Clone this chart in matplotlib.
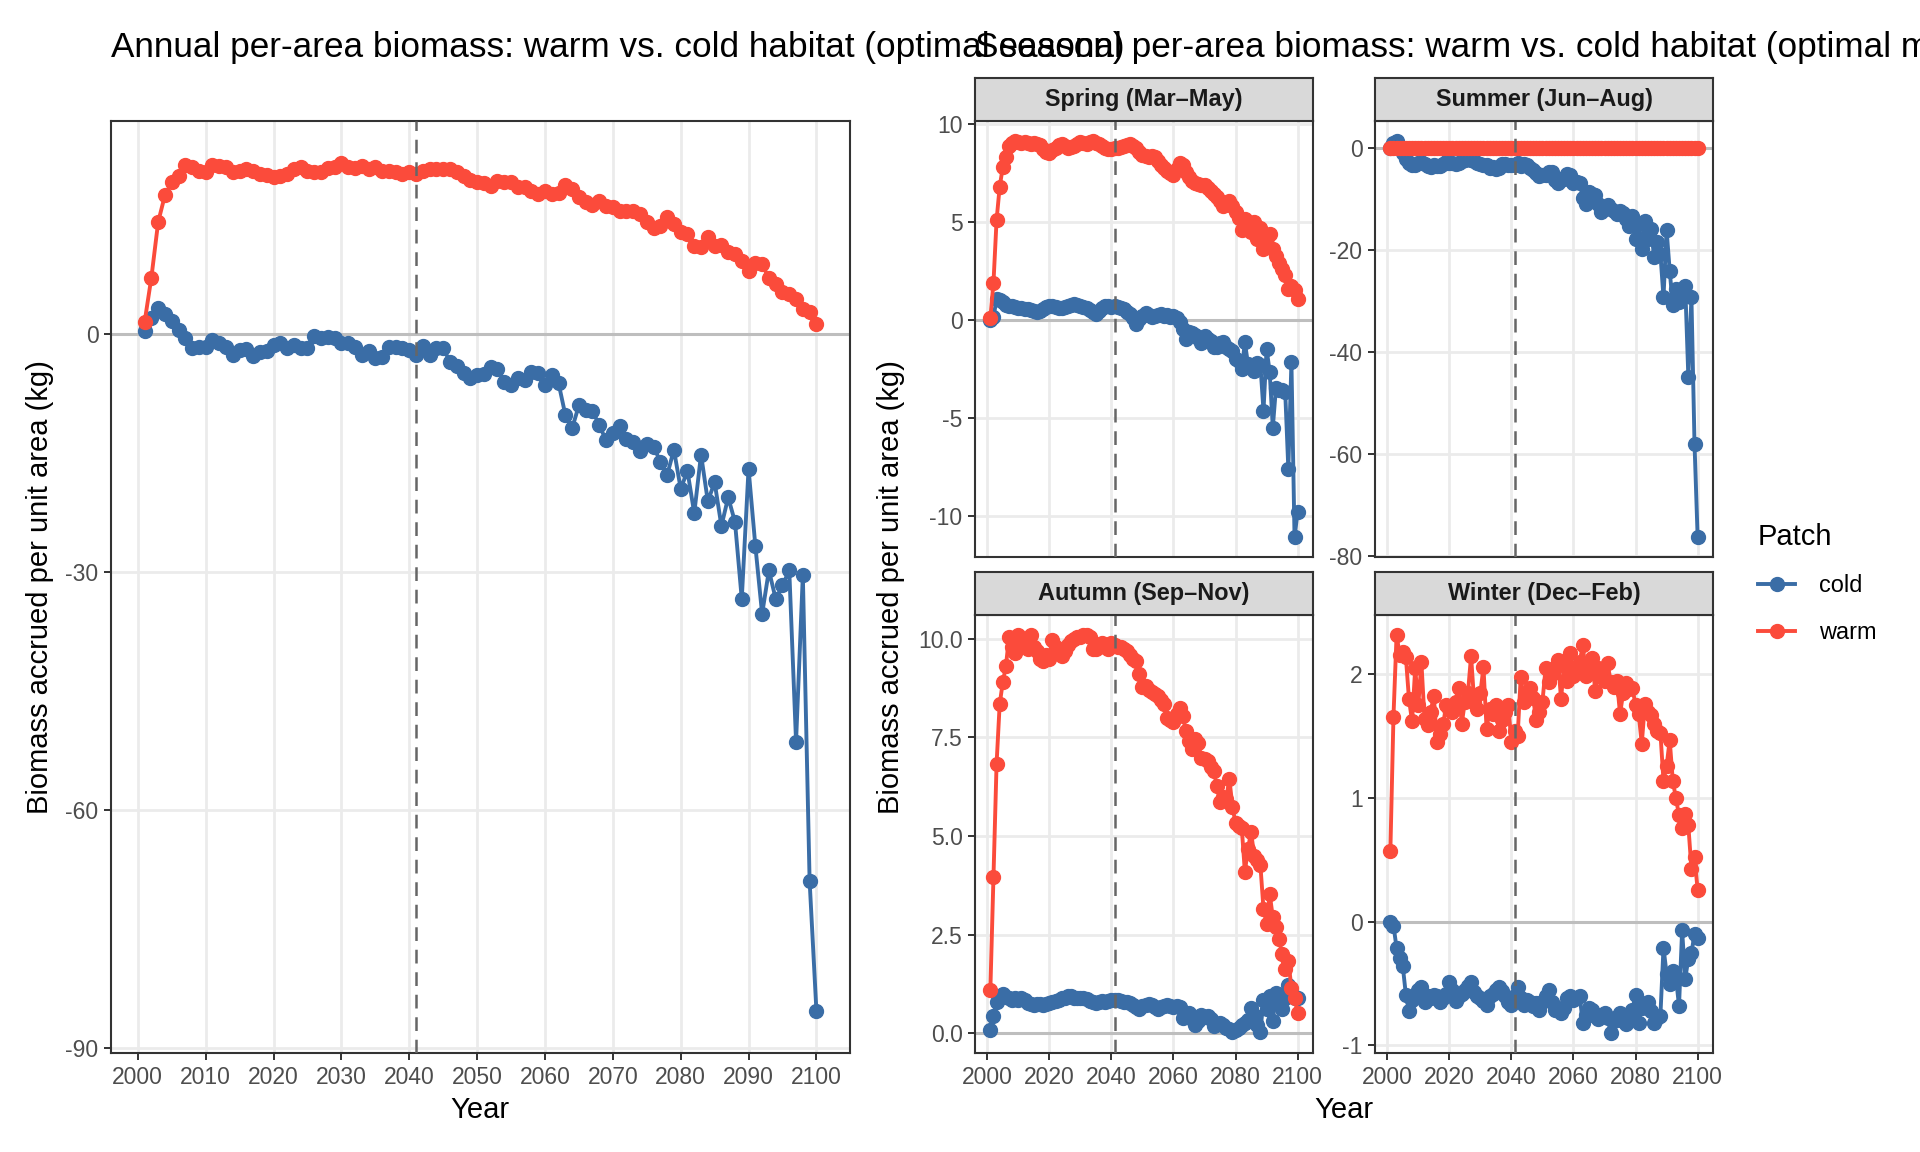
import numpy as np
import matplotlib
matplotlib.use('Agg')
import matplotlib.pyplot as plt
from matplotlib.ticker import MultipleLocator, FormatStrFormatter

plt.rcParams['font.family'] = ['Liberation Sans', 'DejaVu Sans']
plt.rcParams['axes.unicode_minus'] = False

years = np.arange(2001, 2101)

# annual totals (kg per unit area)
annual_warm = [1.5, 7.1, 14.1, 17.5, 19.1, 19.9, 21.3, 21.0, 20.6, 20.35,
               21.3, 21.2, 21.06, 20.35, 20.6, 20.8, 20.6, 20.1, 20.0, 19.8,
               19.85, 20.1, 20.8, 21.0, 20.6, 20.35, 20.35, 20.9, 21.0, 21.5,
               21.0, 20.9, 21.2, 20.8, 21.0, 20.6, 20.6, 20.35, 20.1, 20.35,
               20.1, 20.6, 20.85, 20.8, 20.85, 20.85, 20.35, 19.9, 19.4, 19.1,
               19.0, 18.7, 19.3, 19.1, 19.1, 18.5, 18.5, 18.0, 17.6, 18.0,
               17.6, 17.8, 18.76, 18.25, 17.3, 16.6, 16.3, 16.7, 16.1, 15.95,
               15.5, 15.45, 15.5, 15.1, 14.1, 13.4, 13.6, 14.8, 13.9, 12.8,
               12.6, 11.1, 10.9, 12.2, 11.1, 11.2, 10.3, 10.1, 9.25, 7.9,
               9.0, 8.8, 7.0, 6.3, 5.3, 5.07, 4.4, 3.2, 2.76, 1.3]
annual_cold = [0.4, 2.0, 3.3, 2.55, 1.6, 0.46, -0.5, -1.8, -1.7, -1.6,
               -0.8, -1.2, -1.6, -2.7, -2.0, -1.9, -2.8, -2.3, -2.2, -1.35,
               -1.2, -1.8, -1.4, -1.8, -1.76, -0.3, -0.5, -0.4, -0.5, -1.2,
               -1.2, -1.6, -2.6, -2.2, -3.0, -2.9, -1.6, -1.7, -1.8, -2.0,
               -2.7, -1.5, -2.7, -1.8, -1.8, -3.5, -4.1, -4.9, -5.5, -5.2,
               -5.1, -4.2, -4.4, -6.0, -6.4, -5.6, -5.8, -4.8, -4.9, -6.4,
               -5.2, -6.2, -10.2, -11.9, -9.0, -9.6, -9.7, -11.5, -13.4, -12.5,
               -11.6, -13.2, -13.6, -14.8, -13.9, -14.2, -16.1, -17.8, -14.6, -19.5,
               -17.3, -22.6, -15.2, -21.1, -18.7, -24.2, -20.6, -23.7, -33.4, -17.0,
               -26.7, -35.3, -29.8, -33.4, -31.7, -29.8, -51.4, -30.4, -69.0, -85.3]

# seasonal totals
spring_warm = [0.1, 1.9, 5.1, 6.8, 7.8, 8.3, 8.9, 9.05, 9.15, 9.1,
               9.05, 9.1, 9.05, 9.0, 9.05, 9.0, 8.95, 8.75, 8.6, 8.55,
               8.7, 8.8, 8.95, 9.0, 8.9, 8.8, 8.85, 8.9, 9.0, 9.1,
               9.05, 9.0, 9.1, 9.15, 9.05, 9.0, 8.9, 8.8, 8.75, 8.75,
               8.8, 8.8, 8.85, 8.9, 8.95, 9.0, 8.9, 8.8, 8.6, 8.4,
               8.35, 8.3, 8.35, 8.3, 8.1, 7.9, 7.75, 7.6, 7.5, 7.4,
               7.7, 8.0, 7.9, 7.55, 7.3, 7.1, 7.0, 6.95, 6.9, 6.87,
               6.75, 6.6, 6.45, 6.27, 6.05, 5.84, 5.9, 6.1, 5.8, 5.5,
               5.2, 4.57, 5.16, 4.9, 4.48, 5.0, 4.14, 4.7, 3.6, 4.2,
               4.4, 3.6, 3.27, 2.9, 2.6, 2.27, 1.58, 1.75, 1.55, 1.05]
spring_cold = [0.0, 0.15, 1.05, 1.0, 0.9, 0.78, 0.7, 0.7, 0.65, 0.6,
               0.62, 0.58, 0.55, 0.5, 0.45, 0.4, 0.45, 0.55, 0.65, 0.72,
               0.7, 0.68, 0.62, 0.6, 0.65, 0.7, 0.75, 0.8, 0.78, 0.7,
               0.65, 0.6, 0.5, 0.4, 0.32, 0.45, 0.6, 0.7, 0.7, 0.68,
               0.7, 0.65, 0.6, 0.55, 0.4, 0.3, 0.1, -0.2, 0.05, 0.2,
               0.35, 0.25, 0.15, 0.2, 0.25, 0.3, 0.2, 0.25, 0.15, 0.2,
               0.1, -0.1, -0.46, -0.97, -0.6, -0.65, -0.75, -0.9, -1.2, -0.8,
               -1.0, -1.1, -1.4, -1.4, -1.2, -1.14, -1.4, -1.5, -1.57, -2.0,
               -2.1, -2.5, -1.14, -2.25, -2.4, -2.6, -2.2, -2.3, -4.63, -1.48,
               -2.67, -5.5, -3.5, -3.6, -3.6, -3.7, -7.6, -2.16, -11.1, -9.8]
summer_warm = [0.0, 0.0, 0.0, 0.0, 0.0, 0.0, 0.0, 0.0, 0.0, 0.0,
               0.0, 0.0, 0.0, 0.0, 0.0, 0.0, 0.0, 0.0, 0.0, 0.0,
               0.0, 0.0, 0.0, 0.0, 0.0, 0.0, 0.0, 0.0, 0.0, 0.0,
               0.0, 0.0, 0.0, 0.0, 0.0, 0.0, 0.0, 0.0, 0.0, 0.0,
               0.0, 0.0, 0.0, 0.0, 0.0, 0.0, 0.0, 0.0, 0.0, 0.0,
               0.0, 0.0, 0.0, 0.0, 0.0, 0.0, 0.0, 0.0, 0.0, 0.0,
               0.0, 0.0, 0.0, 0.0, 0.0, 0.0, 0.0, 0.0, 0.0, 0.0,
               0.0, 0.0, 0.0, 0.0, 0.0, 0.0, 0.0, 0.0, 0.0, 0.0,
               0.0, 0.0, 0.0, 0.0, 0.0, 0.0, 0.0, 0.0, 0.0, 0.0,
               0.0, 0.0, 0.0, 0.0, 0.0, 0.0, 0.0, 0.0, 0.0, 0.0]
summer_cold = [0.0, 1.0, 1.4, 0.2, -1.0, -2.2, -3.0, -3.4, -3.3, -2.9,
               -2.8, -3.1, -3.6, -3.7, -3.4, -3.6, -3.5, -3.2, -2.8, -2.9,
               -3.0, -3.1, -3.0, -2.6, -2.3, -2.2, -2.4, -2.6, -2.9, -3.2,
               -3.3, -3.4, -3.9, -3.8, -4.1, -3.9, -3.2, -3.1, -3.25, -3.3,
               -3.4, -3.0, -3.5, -3.2, -3.4, -3.9, -4.3, -5.0, -5.6, -5.3,
               -5.4, -4.7, -4.8, -6.3, -6.8, -6.0, -6.1, -5.2, -5.3, -6.9,
               -6.6, -6.9, -9.75, -11.0, -8.6, -9.1, -9.3, -11.0, -12.5, -12.0,
               -11.2, -12.0, -12.3, -13.0, -12.4, -12.7, -14.0, -15.3, -13.3, -17.9,
               -15.0, -19.8, -14.3, -17.9, -16.0, -21.5, -18.5, -20.8, -29.3, -16.1,
               -24.1, -30.9, -27.6, -30.2, -28.5, -27.0, -44.9, -29.3, -58.2, -76.4]
autumn_warm = [1.1, 3.96, 6.83, 8.34, 8.9, 9.3, 10.04, 9.8, 9.65, 10.1,
               9.9, 10.0, 9.75, 10.1, 9.8, 9.7, 9.5, 9.45, 9.6, 9.5,
               9.96, 9.8, 9.7, 9.57, 9.7, 9.85, 9.95, 10.0, 10.05, 10.05,
               10.1, 10.1, 10.05, 9.74, 9.75, 9.85, 9.9, 9.8, 9.75, 9.9,
               9.85, 9.8, 9.8, 9.75, 9.7, 9.6, 9.5, 9.45, 9.1, 8.77,
               8.8, 8.7, 8.64, 8.6, 8.55, 8.45, 8.34, 8.0, 7.95, 7.9,
               8.1, 8.25, 8.05, 7.66, 7.4, 7.2, 7.45, 7.35, 6.98, 6.95,
               6.9, 6.75, 6.64, 6.26, 5.87, 6.0, 5.95, 6.45, 5.74, 5.32,
               5.25, 5.2, 4.09, 4.68, 5.1, 4.5, 4.4, 4.26, 3.15, 2.77,
               3.53, 2.94, 2.7, 2.38, 2.0, 1.62, 1.83, 1.15, 0.89, 0.51]
autumn_cold = [0.09, 0.44, 0.78, 0.95, 0.98, 0.92, 0.9, 0.85, 0.88, 0.85,
               0.89, 0.85, 0.77, 0.75, 0.72, 0.74, 0.73, 0.72, 0.75, 0.77,
               0.8, 0.82, 0.85, 0.88, 0.9, 0.94, 0.93, 0.9, 0.88, 0.9,
               0.89, 0.86, 0.82, 0.78, 0.77, 0.8, 0.82, 0.8, 0.81, 0.83,
               0.85, 0.83, 0.82, 0.8, 0.78, 0.76, 0.7, 0.65, 0.6, 0.68,
               0.72, 0.75, 0.7, 0.65, 0.6, 0.65, 0.68, 0.7, 0.68, 0.66,
               0.68, 0.65, 0.38, 0.45, 0.51, 0.35, 0.21, 0.3, 0.47, 0.4,
               0.43, 0.35, 0.17, 0.22, 0.25, 0.21, 0.12, 0.1, 0.04, 0.08,
               0.13, 0.2, 0.25, 0.34, 0.64, 0.45, 0.21, 0.04, 0.85, 0.6,
               0.94, 0.3, 1.02, 0.8, 0.6, 0.9, 1.23, 1.05, 0.89, 0.9]
winter_warm = [0.57, 1.66, 2.32, 2.16, 2.18, 2.14, 1.8, 1.62, 2.05, 1.75,
               2.1, 1.64, 1.59, 1.7, 1.83, 1.45, 1.52, 1.6, 1.75, 1.72,
               1.7, 1.78, 1.89, 1.6, 1.78, 1.85, 2.15, 1.78, 1.72, 1.85,
               2.06, 1.56, 1.72, 1.68, 1.75, 1.54, 1.63, 1.7, 1.75, 1.45,
               1.54, 1.5, 1.98, 1.78, 1.85, 1.89, 1.81, 1.63, 1.7, 1.78,
               2.05, 1.94, 2.0, 2.05, 2.12, 1.8, 2.1, 1.95, 2.17, 1.99,
               2.05, 2.1, 2.24, 1.99, 2.05, 2.13, 1.87, 2.05, 1.98, 1.95,
               2.09, 1.94, 1.9, 1.95, 1.68, 1.85, 1.93, 1.88, 1.89, 1.75,
               1.68, 1.44, 1.76, 1.7, 1.67, 1.6, 1.54, 1.53, 1.14, 1.26,
               1.47, 1.14, 1.0, 0.86, 0.76, 0.87, 0.78, 0.43, 0.52, 0.26]
winter_cold = [0.0, -0.03, -0.21, -0.29, -0.36, -0.59, -0.72, -0.63, -0.6, -0.55,
               -0.53, -0.65, -0.6, -0.62, -0.59, -0.6, -0.65, -0.62, -0.58, -0.49,
               -0.55, -0.64, -0.6, -0.58, -0.55, -0.52, -0.49, -0.57, -0.6, -0.62,
               -0.64, -0.67, -0.6, -0.58, -0.55, -0.53, -0.56, -0.6, -0.65, -0.67,
               -0.6, -0.53, -0.62, -0.67, -0.63, -0.65, -0.68, -0.66, -0.71, -0.65,
               -0.6, -0.55, -0.65, -0.71, -0.7, -0.74, -0.7, -0.62, -0.6, -0.63,
               -0.62, -0.6, -0.82, -0.75, -0.7, -0.71, -0.76, -0.79, -0.75, -0.74,
               -0.78, -0.9, -0.8, -0.77, -0.74, -0.8, -0.83, -0.75, -0.71, -0.59,
               -0.82, -0.7, -0.68, -0.65, -0.72, -0.82, -0.78, -0.76, -0.21, -0.42,
               -0.5, -0.4, -0.45, -0.68, -0.07, -0.46, -0.3, -0.25, -0.1, -0.13]

season_names = ['Spring (Mar\u2013May)', 'Summer (Jun\u2013Aug)',
                'Autumn (Sep\u2013Nov)', 'Winter (Dec\u2013Feb)']
season_warm = [spring_warm, summer_warm, autumn_warm, winter_warm]
season_cold = [spring_cold, summer_cold, autumn_cold, winter_cold]
season_ystep = [5, 20, 2.5, 1]

cut_year = 2041
cold_col = '#3A6DA6'
warm_col = '#FB4B3B'

W, H = 1920, 1152
def box(l, t, r, b):
    return [l / W, 1 - b / H, (r - l) / W, (b - t) / H]

fig = plt.figure(figsize=(19.2, 11.52), dpi=100)

def draw(ax, warm, cold, xstep, ystep):
    ax.axhline(0, color='#BEBEBE', lw=2.2, zorder=1.5)
    l1, = ax.plot(years, cold, '-o', color=cold_col, lw=2.8, ms=10, zorder=2, label='cold')
    l2, = ax.plot(years, warm, '-o', color=warm_col, lw=2.8, ms=10, zorder=2.1, label='warm')
    ax.axvline(cut_year, color='#666666', lw=1.8, ls=(0, (5.5, 3.5)), zorder=3)
    ax.margins(0.05)
    ax.xaxis.set_major_locator(MultipleLocator(xstep))
    ax.yaxis.set_major_locator(MultipleLocator(ystep))
    ax.grid(True, color='#EBEBEB', lw=2.0)
    ax.set_axisbelow(True)
    for s in ax.spines.values():
        s.set_color('#333333')
        s.set_linewidth(1.5)
    ax.tick_params(colors='#333333', labelcolor='#4D4D4D', labelsize=16.5,
                   length=5, width=1.4, pad=4)
    return l1, l2

####annual panel
ax0 = fig.add_axes(box(111, 121, 850, 1053))
l1, l2 = draw(ax0, annual_warm, annual_cold, 10, 30)

####seasonal panels (free y, shared x)
panel_px = [(975, 121, 1313, 557), (1375, 121, 1713, 557),
            (975, 615, 1313, 1053), (1375, 615, 1713, 1053)]
for i in range(4):
    l, t, r, b = panel_px[i]
    ax = fig.add_axes(box(l, t, r, b))
    draw(ax, season_warm[i], season_cold[i], 20, season_ystep[i])
    if season_ystep[i] == 2.5:
        ax.yaxis.set_major_formatter(FormatStrFormatter('%.1f'))
    if i < 2:
        ax.tick_params(axis='x', bottom=False, labelbottom=False)
    st = fig.add_axes(box(l, t - 43, r, t))
    st.set_facecolor('#D9D9D9')
    st.set_xticks([])
    st.set_yticks([])
    for s in st.spines.values():
        s.set_color('#333333')
        s.set_linewidth(1.5)
    st.text(0.5, 0.5, season_names[i], transform=st.transAxes, ha='center', va='center',
            fontsize=16.9, fontweight='bold', color='#1A1A1A')

####titles and axis labels
fig.text(111 / W, 1 - 57.5 / H, 'Annual per-area biomass: warm vs. cold habitat (optimal season)',
         fontsize=25.3, va='baseline', ha='left')
fig.text(975 / W, 1 - 57.5 / H, 'Seasonal per-area biomass: warm vs. cold habitat (optimal month)',
         fontsize=25.3, va='baseline', ha='left')
ylab = 'Biomass accrued per unit area (kg)'
fig.text(40 / W, 1 - 587 / H, ylab, rotation=90, fontsize=21, ha='center', va='center')
fig.text(891 / W, 1 - 587 / H, ylab, rotation=90, fontsize=21, ha='center', va='center')
fig.text(480 / W, 1 - 1118 / H, 'Year', fontsize=21, ha='center', va='baseline')
fig.text(1344 / W, 1 - 1118 / H, 'Year', fontsize=21, ha='center', va='baseline')

####legend
leg = fig.legend(handles=[l1, l2], labels=['cold', 'warm'], title='Patch',
                 loc='upper left', bbox_to_anchor=(1752 / W, 1 - 517 / H),
                 frameon=False, fontsize=16.9, title_fontsize=21, borderpad=0.25,
                 borderaxespad=0, handlelength=1.6, handletextpad=1.0,
                 labelspacing=1.0, alignment='left')

fig.savefig('out.png', dpi=100)
